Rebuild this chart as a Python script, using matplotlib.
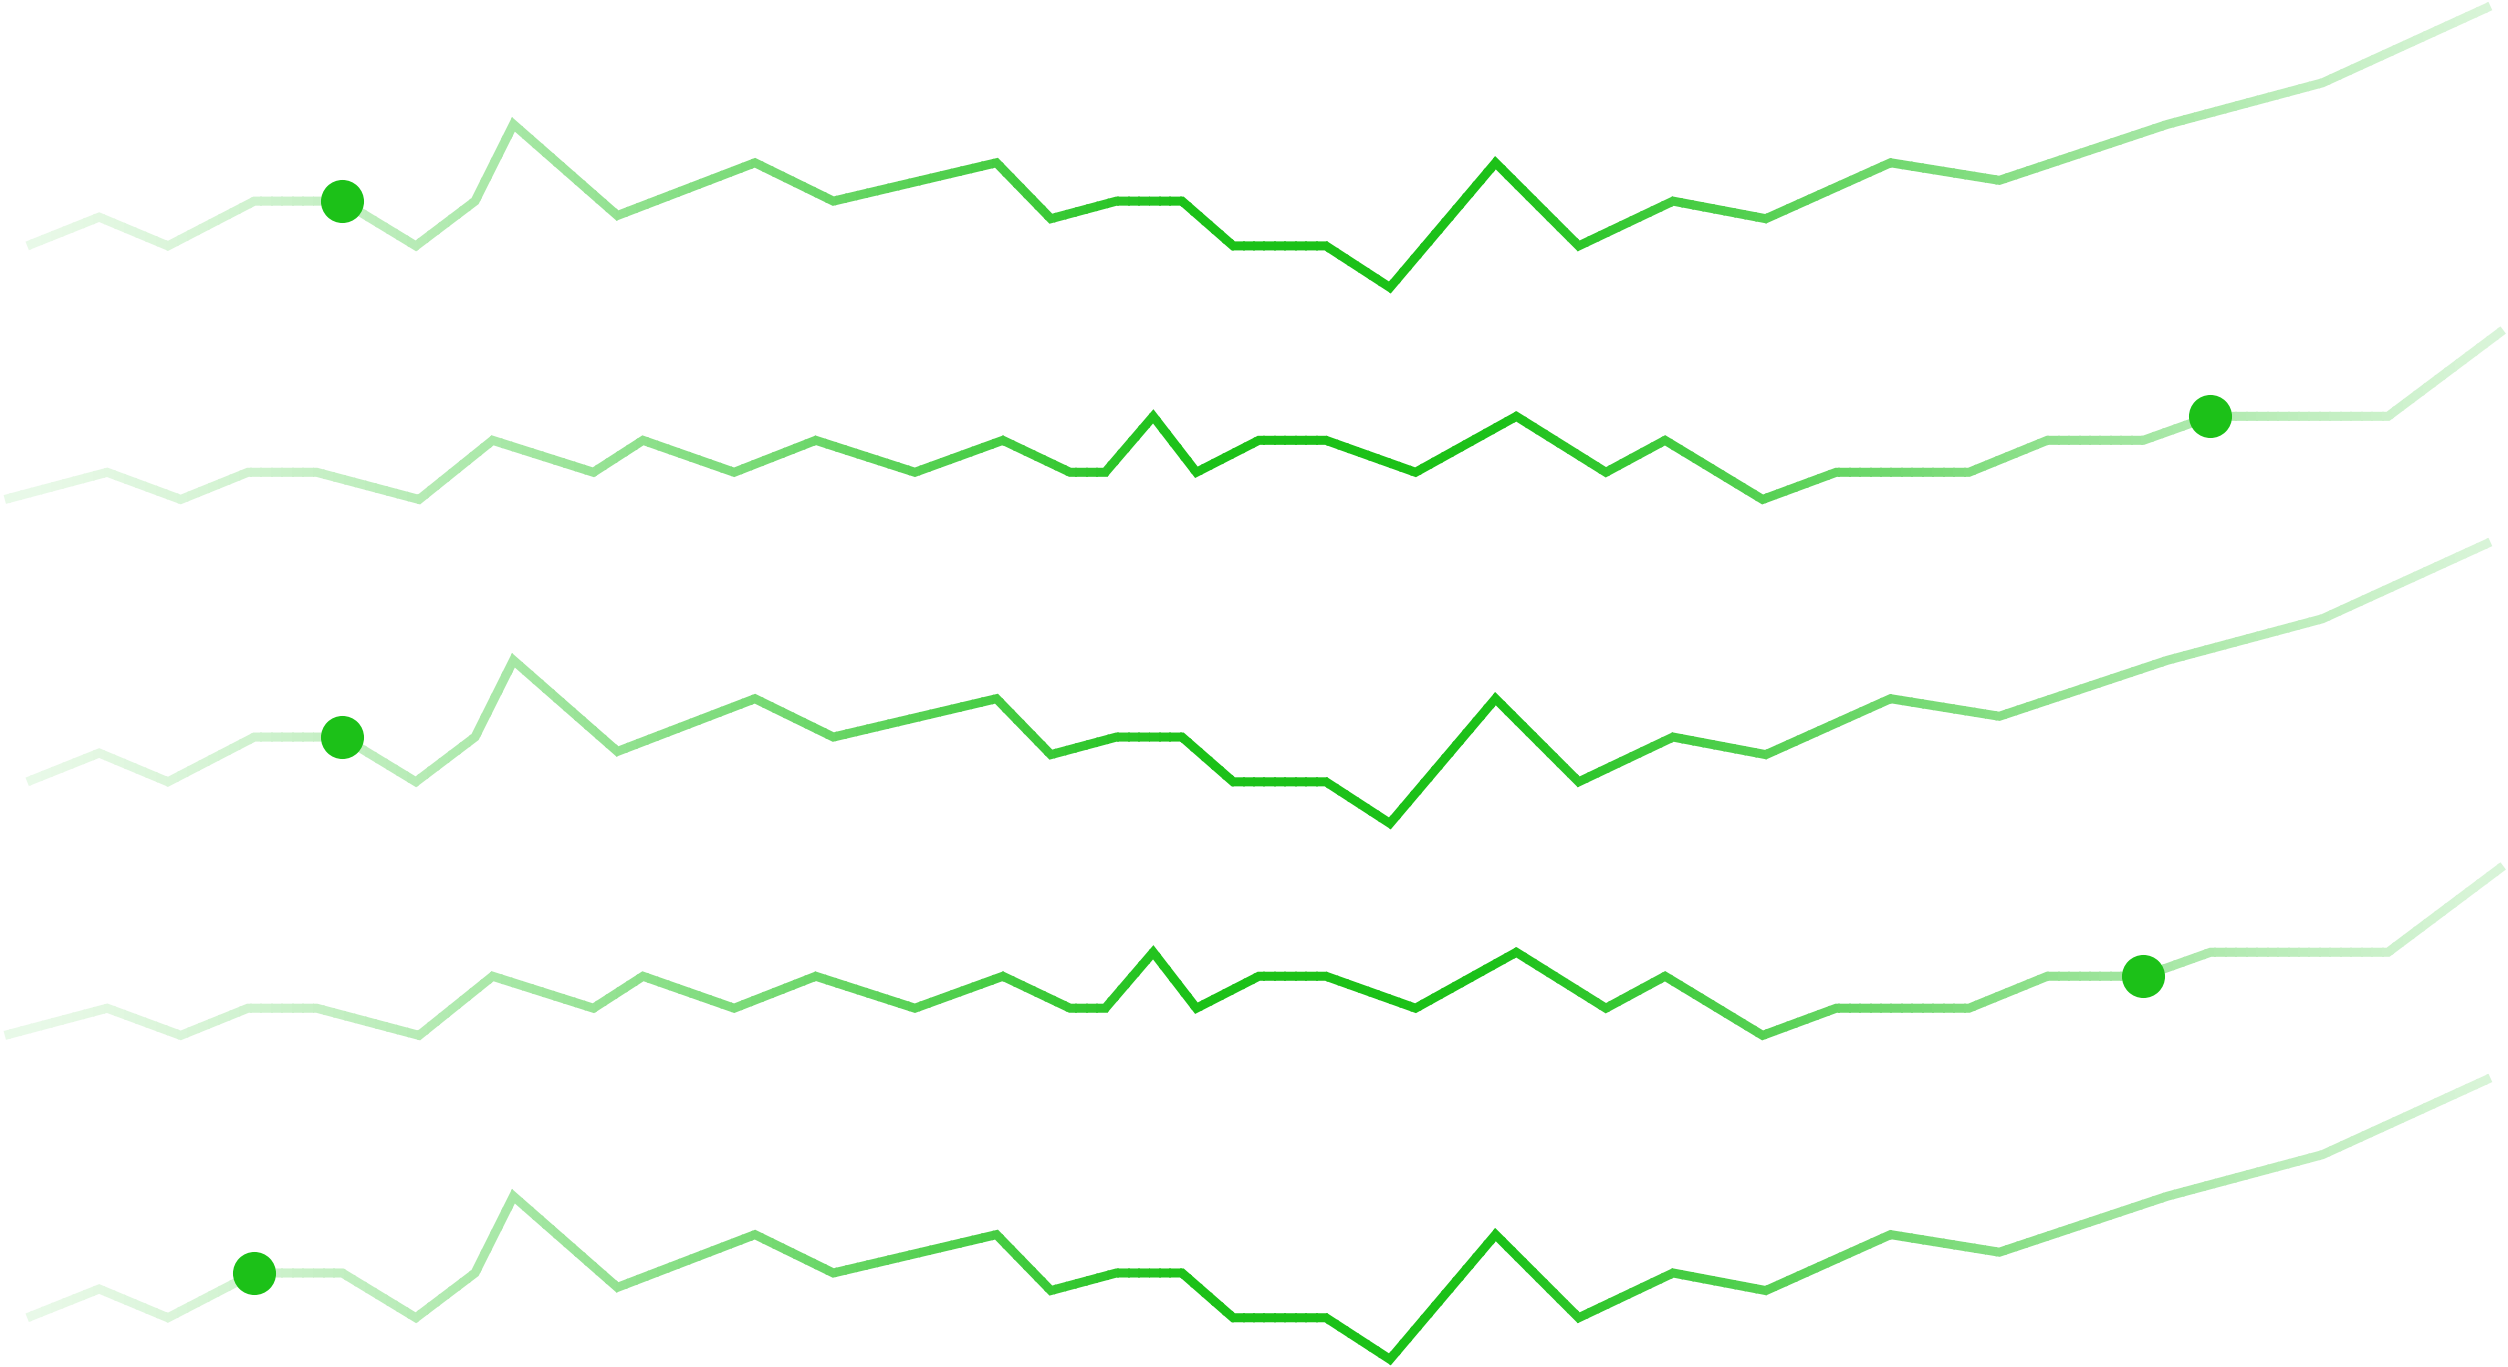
import numpy as np
import matplotlib.pyplot as plt
from matplotlib.transforms import Bbox, TransformedBbox

# two series, each drawn in several rows
x_a = [17, 62, 105, 159, 214, 260, 297, 321, 386, 472, 521, 623, 657, 698, 739, 771,
       829, 869, 935, 987, 1046, 1104, 1182, 1250, 1355, 1452, 1557]
y_a = [26, 44, 26, 54, 54, 26, 54, 102, 45, 78, 54, 78, 43, 54, 54, 26,
       26, 0, 78, 26, 54, 43, 78, 67, 102, 128, 176]

x_b = [3, 67, 113, 155, 198, 262, 308, 371, 402, 459, 510, 572, 627, 669, 691, 721,
       748, 787, 829, 885, 948, 1004, 1041, 1102, 1148, 1231, 1280, 1340, 1382, 1493, 1565]
y_b = [0, 17, 0, 17, 17, 0, 37, 17, 37, 17, 37, 17, 37, 17, 17, 52,
       17, 37, 37, 17, 52, 17, 37, 0, 17, 17, 37, 37, 52, 52, 106]

rows = ["a", "b", "a", "b", "a"]
highlight = [4, 28, 4, 27, 3]

green = np.array([28, 193, 24]) / 255.0
xmax = 1568


def fade(x):
    # full colour in the middle, fading out towards both ends
    if x < 740:
        t = max(x - 17, 0) / (740 - 17)
        return 0.1 + 0.9 * t ** 1.3
    if x > 940:
        t = max(1557 - x, 0) / (1557 - 940)
        return 0.17 + 0.83 * t ** 1.2
    return 1.0


fig = plt.figure(figsize=(25.08, 13.67), dpi=100)
H = 855.0
pitch = 167.6

edges = np.linspace(0, xmax, 241)

for i, key in enumerate(rows):
    xs, ys = (x_a, y_a) if key == "a" else (x_b, y_b)
    top = 8 + pitch * i
    ax = fig.add_axes([0, 1 - (top + pitch) / H, 1, pitch / H])
    ax.set_xlim(0, xmax)
    mid = (min(ys) + max(ys)) / 2
    ax.set_ylim(mid - pitch / 2, mid + pitch / 2)
    ax.axis("off")

    # gradient: same line drawn in vertical strips, each strip its own tint
    for e0, e1 in zip(edges[:-1], edges[1:]):
        a = fade((e0 + e1) / 2)
        col = (1 - a) * np.ones(3) + a * green
        ln, = ax.plot(xs, ys, color=col, lw=6.5, solid_joinstyle="miter",
                      solid_capstyle="butt")
        ln.set_clip_box(TransformedBbox(Bbox([[e0 - 0.6, -1000], [e1 + 0.6, 1000]]),
                                        ax.transData))

    k = highlight[i]
    ax.plot(xs[k], ys[k], "o", ms=31, color=green, mec="none", zorder=5, clip_on=False)

fig.savefig("out.png", dpi=100)
